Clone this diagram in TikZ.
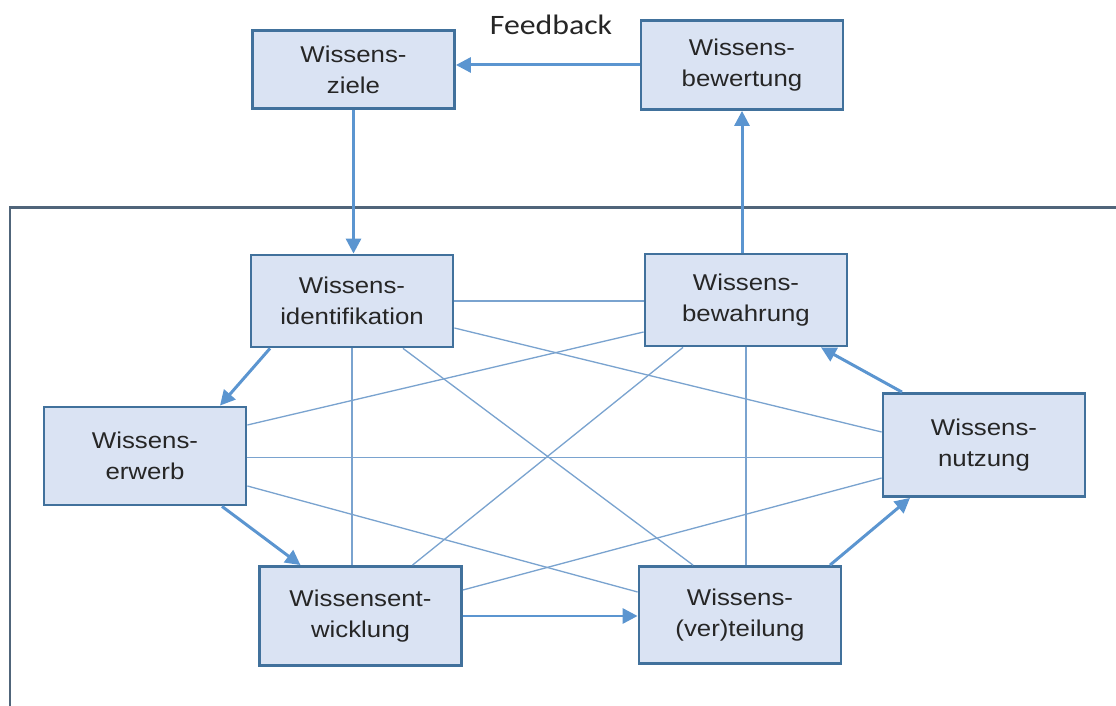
\documentclass[tikz,border=0pt]{standalone}
\usepackage{fontspec}
\setmainfont[FakeStretch=1.13]{Liberation Sans}
\newfontfamily\fbfont[FakeStretch=1.13]{Carlito}
\usepackage{tikz}
\usetikzlibrary{arrows.meta}

\definecolor{boxfill}{HTML}{DAE3F3}
\definecolor{boxline}{HTML}{41719C}
\definecolor{flow}{HTML}{5B95D0}
\definecolor{link}{HTML}{7AA3CF}
\definecolor{framecol}{HTML}{50657A}

\begin{document}
\begin{tikzpicture}
			\tikzstyle{Box}		= [rectangle, draw=boxline, fill=boxfill, line width=1.6pt, minimum width=4.04cm, inner sep=0pt, align=center, text=black!85, font=\fontsize{13}{17.6}\selectfont]
			\tikzstyle{Flow}	= [draw=flow, line width=1.7pt, -{Triangle[length=0.3cm, width=0.3cm]}]
			\tikzstyle{Link}	= [draw=link, line width=0.75pt]
			\tikzstyle{Frame}	= [draw=framecol, line width=1.7pt]

			\useasboundingbox (0,0) rectangle (22.32,14.12);

			\draw [Frame] (0.2,0) -- (0.2,9.96) -- (22.4,9.96);

			\node (k0) at (7.07,12.73) [Box][minimum height=1.56cm] {Wissens-\\ziele};
			\node (k1) at (14.84,12.82) [Box][minimum height=1.78cm] {Wissens-\\bewertung};
			\node (k2) at (7.04,8.10) [Box][minimum height=1.84cm] {Wissens-\\identifikation};
			\node (k3) at (14.92,8.12) [Box][minimum height=1.84cm] {Wissens-\\bewahrung};
			\node (k4) at (2.90,5.00) [Box][minimum height=1.96cm] {Wissens-\\erwerb};
			\node (k5) at (19.68,5.22) [Box][minimum height=2.06cm] {Wissens-\\nutzung};
			\node (k6) at (7.21,1.80) [Box][minimum height=1.98cm] {Wissensent-\\wicklung};
			\node (k7) at (14.80,1.82) [Box][minimum height=1.94cm] {Wissens-\\(ver)teilung};

			\node (fb) at (11.02,13.42) [anchor=base, font=\fbfont\fontsize{16}{19}\selectfont, text=black!85] {Feedback};

			% Kreislauf
			\draw (k1.west) to (k1.west -| k0.east) [Flow];
			\draw (k0.south) to (k0.south |- k2.north) [Flow];
			\draw (k3.north -| k1.south) to (k1.south) [Flow];
			\draw ([xshift=-1.64cm]k2.south) to ([xshift=1.5cm]k4.north) [Flow];
			\draw ([xshift=1.54cm]k4.south) to ([xshift=-1.2cm]k6.north) [Flow];
			\draw (k6.east) to (k6.east -| k7.west) [Flow];
			\draw ([xshift=1.8cm]k7.north) to ([xshift=-1.48cm]k5.south) [Flow];
			\draw ([xshift=-1.64cm]k5.north) to ([xshift=1.5cm]k3.south) [Flow];

			% Querverbindungen
			\draw (k2.east) to (k2.east -| k3.west) [Link];
			\draw ([yshift=-0.54cm]k2.east) to ([yshift=0.26cm]k5.west) [Link];
			\draw ([xshift=1.02cm]k2.south) to ([xshift=-0.94cm]k7.north) [Link];
			\draw (k2.south) to (k2.south |- k6.north) [Link];
			\draw ([yshift=-0.64cm]k3.west) to ([yshift=0.62cm]k4.east) [Link];
			\draw ([xshift=-1.26cm]k3.south) to ([xshift=1.04cm]k6.north) [Link];
			\draw (k3.south) to (k3.south |- k7.north) [Link];
			\draw ([yshift=-0.03cm]k4.east) to ([yshift=-0.03cm]k4.east -| k5.west) [Link];
			\draw ([yshift=-0.6cm]k4.east) to ([yshift=0.46cm]k7.west) [Link];
			\draw ([yshift=0.52cm]k6.east) to ([yshift=-0.66cm]k5.west) [Link];
\end{tikzpicture}
\end{document}
